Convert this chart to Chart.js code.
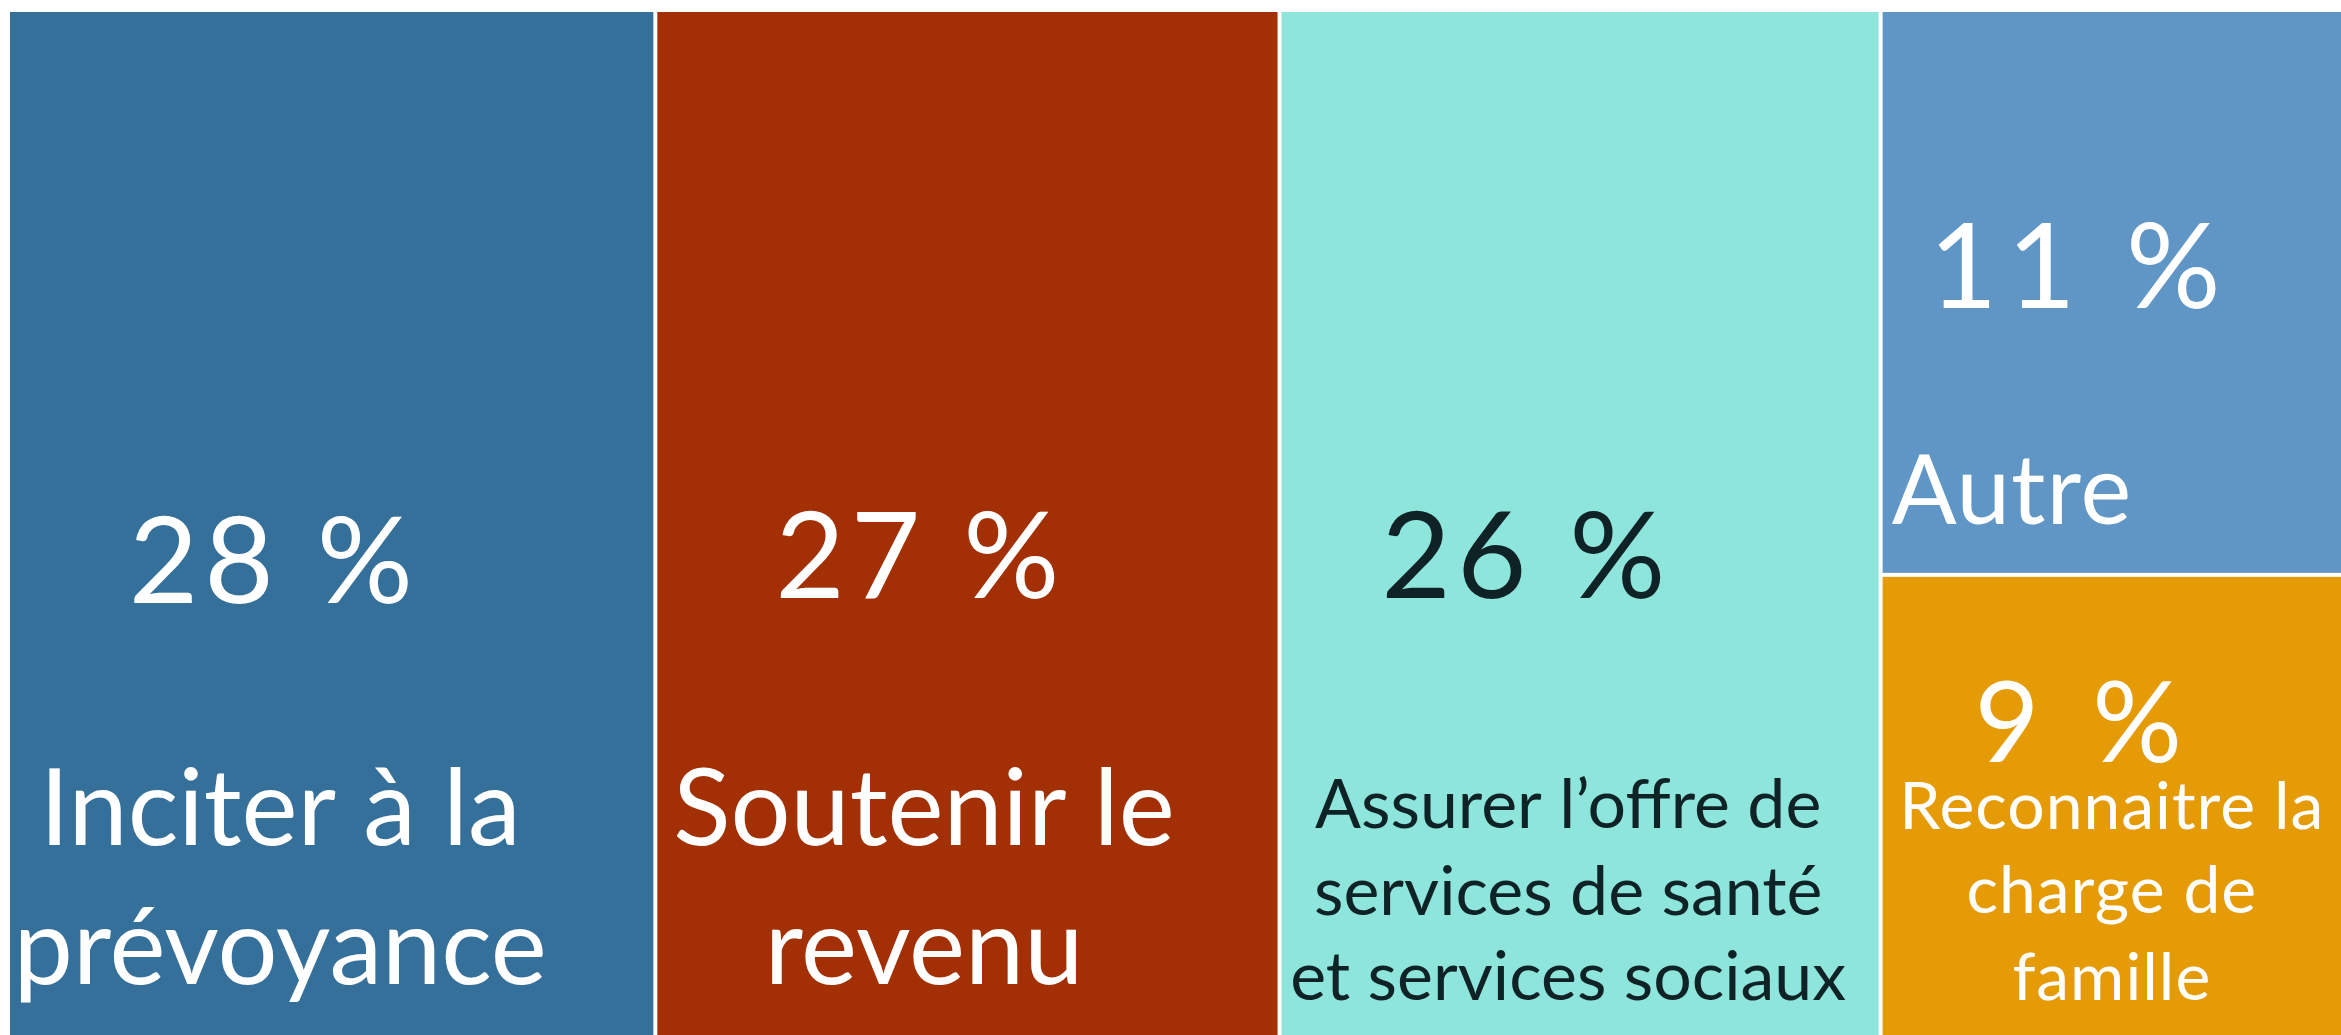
<!DOCTYPE html>
<html><head><meta charset="utf-8">
<script src="https://cdn.jsdelivr.net/npm/chart.js@4.4.0/dist/chart.umd.min.js"></script>
<style>html,body{margin:0;padding:0;background:#fff;overflow:hidden}#wrap{width:2341px;height:1035px;position:relative}</style>
</head><body><div id="wrap"><canvas id="c"></canvas></div>
<script>
// ---- data ----
const categories = ["Inciter à la prévoyance", "Soutenir le revenu", "Assurer l’offre de services de santé et services sociaux", "Autre", "Reconnaitre la charge de famille"];
const values = [28, 27, 26, 11, 9];
const valueLabels = ["28 %", "27 %", "26 %", "11 %", "9 %"];
const labelLines = [["Inciter à la", "prévoyance"], ["Soutenir le", "revenu"], ["Assurer l’offre de", "services de santé", "et services sociaux"], ["Autre"], ["Reconnaitre la", "charge de", "famille"]];
const columnGroup = [0, 1, 2, 3, 3];

// ---- styles ----
const colors = ["#35709b", "#a23004", "#8ee5dc", "#6096c6", "#e59b06"];
const textColors = ["#ffffff", "#ffffff", "#0f2326", "#ffffff", "#ffffff"];
const FONT = 'Lato, "Open Sans", sans-serif';
// text placement as fractions of each rectangle
const textStyle = [
  { pct: { fx: 0.41, fy: 0.54, size: 120, ls: 6 }, lab: { fx: 0.42, fy: [0.781, 0.917], size: 106, ls: 0, align: 'center' } },
  { pct: { fx: 0.424, fy: 0.535, size: 120, ls: 6 }, lab: { fx: 0.43, fy: [0.781, 0.917], size: 106, ls: 0, align: 'center' } },
  { pct: { fx: 0.41, fy: 0.535, size: 120, ls: 6 }, lab: { fx: 0.48, fy: [0.776, 0.861, 0.944], size: 68, ls: 0, align: 'center' } },
  { pct: { fx: 0.43, fy: 0.46, size: 118, ls: 10 }, lab: { fx: 0.02, fy: [0.857], size: 96, ls: 1, align: 'left' } },
  { pct: { fx: 0.44, fy: 0.325, size: 112, ls: 12 }, lab: { fx: 0.5, fy: [0.504, 0.688, 0.877], size: 66, ls: 1, align: 'center' } }
];

// ---- layout of rectangles in data units (x: cumulative value, y: 0..100) ----
const groups = {};
values.forEach((v, i) => { (groups[columnGroup[i]] = groups[columnGroup[i]] || []).push(i); });
const rects = new Array(values.length);
let xCursor = 0;
Object.keys(groups).sort((a, b) => a - b).forEach(g => {
  const idx = groups[g];
  const sum = idx.reduce((s, i) => s + values[i], 0);
  let yTop = 100;
  idx.forEach(i => {
    const h = values[i] / sum * 100;
    rects[i] = { x0: xCursor, x1: xCursor + sum, y1: yTop, y0: yTop - h };
    yTop -= h;
  });
  xCursor += sum;
});
const total = xCursor;

const treemapPlugin = {
  id: 'treemapRects',
  afterDatasetsDraw(chart) {
    const { ctx, scales: { x, y } } = chart;
    const gap = 4;
    ctx.save();
    rects.forEach((r, i) => {
      const left = x.getPixelForValue(r.x0) + gap;
      const right = x.getPixelForValue(r.x1);
      const top = y.getPixelForValue(r.y1) + gap;
      const bottom = y.getPixelForValue(r.y0);
      ctx.fillStyle = colors[i];
      ctx.fillRect(left, top, right - left, bottom - top);
      const w = right - left, h = bottom - top;
      const st = textStyle[i];
      ctx.fillStyle = textColors[i];
      ctx.textBaseline = 'middle';
      ctx.textAlign = 'center';
      ctx.font = `400 ${st.pct.size}px ${FONT}`;
      ctx.letterSpacing = st.pct.ls + 'px';
      ctx.fillText(valueLabels[i], left + w * st.pct.fx, top + h * st.pct.fy);
      ctx.font = `400 ${st.lab.size}px ${FONT}`;
      ctx.letterSpacing = st.lab.ls + 'px';
      ctx.textAlign = st.lab.align;
      labelLines[i].forEach((line, k) => {
        ctx.fillText(line, left + w * st.lab.fx, top + h * st.lab.fy[k]);
      });
    });
    ctx.restore();
  }
};

new Chart(document.getElementById('c'), {
  type: 'scatter',
  data: {
    datasets: [{
      label: 'Répartition',
      data: rects.map((r, i) => ({ x: (r.x0 + r.x1) / 2, y: (r.y0 + r.y1) / 2, v: values[i] })),
      pointRadius: 0,
      pointHoverRadius: 0
    }]
  },
  options: {
    responsive: true,
    maintainAspectRatio: false,
    animation: false,
    layout: { padding: { left: 6, top: 8, right: 0, bottom: 0 } },
    plugins: { legend: { display: false }, tooltip: { enabled: false } },
    scales: {
      x: { type: 'linear', min: 0, max: total, display: false },
      y: { type: 'linear', min: 0, max: 100, display: false }
    }
  },
  plugins: [treemapPlugin]
});
</script>
</body></html>
